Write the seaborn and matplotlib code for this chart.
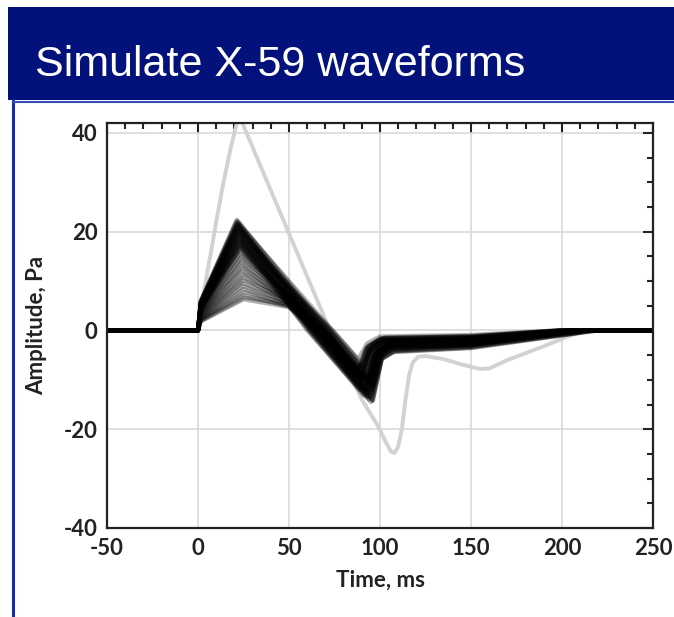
import pandas as pd
import seaborn as sns
import matplotlib.pyplot as plt
from matplotlib.patches import Rectangle
from matplotlib.lines import Line2D
from matplotlib.ticker import MultipleLocator

# Simulierte Wellenformen (Eckpunkte), eine Spalte pro Wellenform
peak_amp = [22.4, 22.2, 22.0, 21.9, 21.7, 21.6, 21.4, 21.2, 21.0, 20.9, 20.7, 20.5, 20.3, 20.2, 20.0, 19.8,
            19.6, 19.4, 19.2, 19.0, 18.8, 18.6, 18.4, 18.2, 18.0, 17.8, 17.6, 17.4, 17.2, 17.0, 16.8, 16.5,
            16.0, 15.5, 15.0, 14.4, 13.8, 13.2, 12.6, 12.0, 11.4, 10.8, 10.2, 9.6, 9.0, 8.4, 7.8, 7.2, 6.7, 6.3]
peak_time = [21.5, 21, 22, 21.5, 22, 21, 22.5, 21.5, 22, 21, 22.5, 21.5, 22, 23, 22, 21.5,
             22.5, 22, 23, 22, 22.5, 23, 22, 22.5, 23, 22.5, 23, 23.5, 22.5, 23, 23.5, 23,
             23.5, 23, 24, 23.5, 24, 24, 24.5, 24, 25, 24.5, 25, 24.5, 25, 25, 25.5, 25, 25.5, 25]
shock = [6.0, 5.9, 5.7, 5.9, 5.5, 5.8, 5.3, 5.6, 5.4, 5.7, 5.1, 5.4, 5.2, 4.9, 5.3, 5.2,
         4.9, 5.0, 4.7, 5.0, 4.8, 4.6, 4.9, 4.6, 4.5, 4.7, 4.4, 4.3, 4.6, 4.3, 4.2, 4.4,
         4.2, 4.0, 3.9, 3.7, 3.6, 3.4, 3.3, 3.1, 3.0, 2.8, 2.7, 2.5, 2.4, 2.2, 2.1, 2.0, 1.9, 1.8]
mid_50 = [9.2, 8.5, 9.7, 7.9, 10.0, 8.6, 7.6, 9.0, 7.9, 9.2, 6.3, 8.5, 6.8, 8.1, 8.8, 5.5,
          7.2, 8.1, 6.2, 8.8, 7.2, 5.0, 7.9, 6.4, 7.4, 5.4, 8.1, 6.0, 6.8, 4.9, 6.3, 7.0,
          6.8, 7.2, 6.0, 7.0, 6.3, 5.6, 6.6, 5.8, 6.0, 5.4, 6.2, 5.5, 5.6, 4.9, 5.3, 4.8, 5.1, 4.7]
zero_time = [70, 68, 72, 66, 74, 69, 65, 71, 67, 73, 62, 70, 64, 68, 72, 61,
             66, 70, 63, 74, 67, 60, 71, 65, 69, 62, 73, 64, 68, 61, 66, 70,
             64, 68, 62, 70, 66, 63, 69, 65, 67, 64, 70, 66, 68, 63, 67, 65, 69, 66]
trough_time = [93, 91, 95, 94, 88, 96, 92, 89, 95, 93, 94, 90, 96, 88, 97, 91,
               89, 95, 93, 91, 92, 95, 94, 87, 92, 96, 90, 94, 93, 89, 96, 88,
               95, 90, 93, 94, 89, 96, 91, 93, 88, 92, 96, 94, 90, 92, 95, 89, 93, 91]
trough_amp = [-10.5, -10.0, -10.2, -12.5, -5.8, -11.8, -12.0, -7.6, -12.6, -8.8, -14.0, -8.6, -14.2, -8.5, -11.0, -13.2,
              -10.0, -11.0, -13.4, -7.2, -11.0, -14.5, -10.2, -9.4, -10.0, -14.3, -7.4, -13.2, -11.0, -12.0, -13.0, -7.8,
              -13.5, -9.5, -13.5, -10.5, -9.8, -14.0, -9.5, -12.0, -9.0, -12.2, -11.5, -12.2, -9.6, -12.8, -12.2, -10.4, -10.6, -11.0]
knee = [-4.3, -4.0, -4.2, -5.0, -2.6, -4.8, -4.9, -3.2, -5.1, -3.6, -5.6, -3.5, -5.8, -3.4, -4.5, -5.3,
        -4.0, -4.5, -5.4, -3.0, -4.4, -5.9, -4.1, -3.8, -4.0, -5.8, -3.0, -5.3, -4.5, -4.8, -5.3, -3.2,
        -5.4, -3.8, -5.4, -4.2, -3.9, -5.6, -3.8, -4.8, -3.6, -4.9, -4.6, -4.9, -3.8, -5.1, -4.9, -4.2, -4.2, -4.4]
recover = [-2.6, -2.4, -2.8, -3.2, -1.2, -3.4, -2.9, -1.6, -3.6, -2.0, -4.0, -1.8, -4.3, -1.7, -3.0, -3.3,
           -2.3, -3.0, -3.5, -1.4, -2.7, -4.4, -2.6, -2.0, -2.5, -4.1, -1.5, -3.4, -2.8, -2.9, -3.7, -1.6,
           -3.6, -2.0, -3.7, -2.5, -2.2, -4.2, -2.1, -3.0, -1.9, -3.1, -2.8, -3.0, -2.0, -3.3, -3.0, -2.3, -2.4, -2.6]
tail_150 = [-2.1, -1.9, -2.3, -2.6, -0.9, -2.8, -2.3, -1.2, -3.0, -1.6, -3.3, -1.4, -3.5, -1.3, -2.5, -2.6,
            -1.8, -2.5, -2.8, -1.1, -2.2, -3.6, -2.1, -1.6, -2.0, -3.3, -1.2, -2.8, -2.3, -2.3, -3.0, -1.3,
            -3.0, -1.6, -3.0, -2.0, -1.8, -3.4, -1.7, -2.4, -1.5, -2.5, -2.3, -2.4, -1.6, -2.7, -2.4, -1.9, -1.9, -2.1]
tail_end = [210, 206, 214, 208, 196, 216, 204, 200, 214, 204, 218, 200, 220, 198, 214, 210,
            204, 212, 214, 198, 208, 220, 210, 202, 206, 218, 198, 212, 208, 206, 216, 200,
            214, 202, 212, 206, 204, 218, 202, 210, 200, 210, 208, 210, 202, 212, 210, 204, 206, 206]

# Referenz-Wellenform (grau)
ref_time = [-50, 0, 2, 5, 7.5, 10, 14, 18, 21, 23, 72.5, 90, 99, 103, 106, 108, 110, 112,
            114, 116, 118, 121, 125, 135, 145, 155, 160, 170, 190, 204, 212, 218, 250]
ref_amp = [0, 0, 5, 11.5, 16.6, 22, 30, 37, 41.5, 43.2, 0, -14, -19.4, -22.5, -24.5, -24.8, -23.5, -20,
           -14, -9, -6.5, -5.3, -5.2, -5.8, -6.9, -7.8, -7.7, -6.0, -3.2, -1.1, -0.2, 0, 0]

rows = []
for i in range(len(peak_amp)):
    t = [-50, 0, 1.5, peak_time[i], 50, zero_time[i], trough_time[i], trough_time[i] + 5,
         trough_time[i] + 12, 150, tail_end[i], 250]
    a = [0, 0, shock[i], peak_amp[i], mid_50[i], 0, trough_amp[i], knee[i], recover[i], tail_150[i], 0, 0]
    for tt, aa in zip(t, a):
        rows.append({"wave": i, "time": tt, "amp": aa})
df = pd.DataFrame(rows)
ref = pd.DataFrame({"time": ref_time, "amp": ref_amp})

sns.set_theme(style="white")
plt.rcParams["font.family"] = ["Lato", "DejaVu Sans"]
plt.rcParams["axes.unicode_minus"] = False

fig = plt.figure(figsize=(6.74, 6.17), dpi=100)

# Folienkopf
fig.patches.append(Rectangle((8 / 674, 1 - 100 / 617), 1, 93 / 617, transform=fig.transFigure,
                             facecolor="#02127a", edgecolor="none", zorder=0))
fig.lines.append(Line2D([13 / 674, 13 / 674], [0, 1 - 100 / 617], transform=fig.transFigure,
                        color="#1a2ca8", lw=2.2))
fig.lines.append(Line2D([13 / 674, 1], [1 - 101.5 / 617, 1 - 101.5 / 617], transform=fig.transFigure,
                        color="#3a4ab8", lw=1.5))
fig.text(35 / 674, 1 - 76 / 617, "Simulate X-59 waveforms", color="white", fontsize=31,
         family="Liberation Sans", va="baseline", ha="left")

ax = fig.add_axes([107 / 674, 89 / 617, 546 / 674, 405 / 617])
sns.lineplot(data=ref, x="time", y="amp", color="#d2d2d2", lw=2.8, ax=ax, sort=False)
sns.lineplot(data=df, x="time", y="amp", units="wave", estimator=None, color="black",
             alpha=0.3, lw=3.0, ax=ax, sort=False)

ax.set_xlim(-50, 250)
ax.set_ylim(-40, 42)
ax.xaxis.set_major_locator(MultipleLocator(50))
ax.xaxis.set_minor_locator(MultipleLocator(10))
ax.yaxis.set_major_locator(MultipleLocator(20))
ax.yaxis.set_minor_locator(MultipleLocator(5))
ax.grid(True, which="major", color="#d9d9d9", lw=1.2)
ax.set_axisbelow(True)
ax.tick_params(which="both", direction="in", top=True, right=True, color="#222222", width=1.5)
ax.tick_params(which="major", length=7, labelsize=16, pad=7)
ax.tick_params(which="minor", length=4)
for lab in ax.get_xticklabels() + ax.get_yticklabels():
    lab.set_fontweight("bold")
    lab.set_color("#222222")
for s in ax.spines.values():
    s.set_color("#222222")
    s.set_linewidth(1.6)
ax.set_xlabel("Time, ms", fontsize=16, fontweight="bold", color="#222222", labelpad=8)
ax.set_ylabel("Amplitude, Pa", fontsize=16, fontweight="bold", color="#222222", labelpad=12)

plt.savefig("out.png", dpi=100)
plt.close()
